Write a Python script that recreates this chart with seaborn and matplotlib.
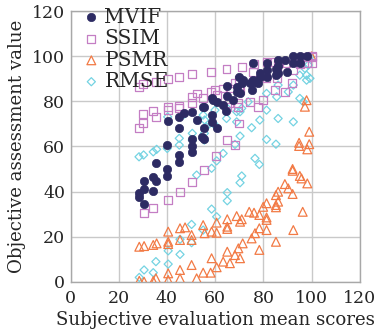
import matplotlib
matplotlib.use("Agg")
import matplotlib.pyplot as plt
import seaborn as sns
import pandas as pd
from matplotlib.ticker import MultipleLocator

# ---------------- data ----------------
mvif_x = [28.4, 28.4, 30.3, 30.3, 30.3, 34.3, 34.3, 35.4, 35.3, 40.1, 40.1, 40.1, 45.1, 45.1,
          50.5, 50.5, 50.5, 55.5, 40.3, 45.1, 45.1, 47.2, 50.5, 52.3, 55.5, 55.5, 54.4, 55.1,
          58.5, 59.2, 60.6, 58.5, 58.5, 60.6, 63.3, 64.5, 65.0, 65.0, 67.5, 69.1, 70.0, 68.9,
          70.3, 71.6, 71.0, 75.1, 74.4, 76.5, 77.8, 78.5, 78.5, 75.8, 75.8, 81.3, 81.3, 81.3,
          85.2, 85.2, 86.1, 86.1, 86.1, 88.9, 89.6, 92.1, 92.1, 95.1, 95.1, 97.9]
mvif_y = [39.2, 37.7, 34.6, 41.1, 44.6, 40.3, 46.5, 44.6, 52.6, 49.8, 46.7, 60.7, 56.2, 53.2,
          63.3, 60.3, 57.6, 63.1, 71.2, 72.9, 68.3, 74.7, 75.4, 71.7, 77.3, 68.3, 64.3, 77.6,
          81.7, 80.5, 79.8, 73.9, 71.0, 68.0, 78.3, 75.8, 86.8, 82.3, 80.5, 84.2, 90.9, 86.4,
          83.5, 89.4, 88.0, 85.0, 88.3, 88.7, 88.0, 92.4, 90.6, 89.4, 96.8, 97.1, 93.8, 90.9,
          94.2, 91.6, 98.3, 95.6, 92.4, 98.3, 93.1, 100.1, 96.8, 100.1, 96.8, 100.0]

ssim_x = [28.4, 30.2, 35.3, 40.3, 45.1, 50.2, 58.2, 64.7, 71.0, 76.1, 81.3, 84.8, 86.1, 89.6,
          95.1, 97.9, 100.0, 95.1, 97.9, 100.0, 100.0,
          28.4, 30.2, 30.2, 34.3, 35.3, 40.3, 40.3, 45.1, 45.1, 50.2, 50.2, 52.3, 55.0, 58.2,
          59.9, 60.6, 63.3, 66.1, 68.2, 65.0, 70.0, 70.0, 70.3, 65.8, 69.5, 69.5, 74.4, 77.8,
          79.9, 84.8, 88.9, 91.7, 92.4, 75.8, 75.8, 81.3, 85.5, 85.5,
          30.5, 34.3, 40.5, 45.4, 50.2, 55.3, 60.3, 65.0, 68.2, 70.0]
ssim_y = [86.4, 87.6, 88.7, 89.9, 90.9, 92.1, 93.1, 94.2, 95.4, 96.5, 97.5, 97.5, 96.8, 96.8,
          99.0, 99.7, 99.7, 96.4, 97.1, 97.1, 100.0,
          68.3, 70.5, 74.3, 75.7, 73.1, 77.6, 76.1, 77.9, 76.9, 82.0, 79.4, 83.5, 81.3, 84.2,
          85.0, 82.8, 85.7, 85.7, 88.0, 77.6, 89.4, 86.4, 85.0, 79.1, 79.1, 77.6, 79.8, 77.6,
          80.5, 85.0, 84.2, 88.0, 93.8, 93.1, 88.7, 90.2, 93.1, 90.2,
          30.3, 32.8, 36.2, 39.6, 44.3, 49.5, 55.7, 62.8, 60.6, 70.2]

psmr_x = [28.5, 30.5, 34.3, 35.7, 40.5, 40.5, 40.5, 45.4, 45.4, 47.5, 50.2, 50.2, 55.0, 55.6,
          58.5, 60.6, 60.6, 65.0, 65.0, 65.0, 68.9, 71.0, 70.3, 74.1, 76.1, 78.3, 81.3, 81.3,
          79.9, 81.3, 85.2, 86.1, 86.1, 85.2, 85.2, 88.9, 90.3, 92.1, 92.1, 92.1, 95.1, 95.8,
          98.2, 96.3, 94.8, 94.8, 99.0, 98.2, 99.0, 97.9, 97.2, 100.0, 92.4,
          28.5, 30.5, 34.3, 35.4, 40.5, 40.5, 45.4, 45.4, 50.2, 52.3, 55.0, 58.1, 60.6, 58.5,
          63.3, 65.0, 66.1, 68.2, 69.6, 70.3, 71.4, 78.3, 78.3, 76.5, 75.1, 85.2, 81.3]
psmr_y = [15.5, 15.8, 16.3, 17.0, 22.2, 17.7, 16.7, 23.7, 18.5, 24.1, 20.7, 18.5, 25.1, 21.5,
          22.2, 26.2, 21.7, 27.7, 24.4, 23.4, 29.1, 27.7, 26.6, 31.0, 30.6, 29.6, 28.5, 27.4,
          33.2, 34.8, 38.4, 39.9, 35.5, 34.0, 33.0, 43.3, 41.4, 38.9, 50.0, 49.2, 46.9, 45.8,
          43.6, 31.0, 61.6, 60.2, 61.0, 58.7, 66.5, 80.5, 77.6, 100.0, 22.9,
          0.4, 0.0, 0.3, 1.5, 3.7, 0.8, 5.2, 1.5, 7.4, 1.5, 4.0, 4.0, 6.4, 10.4,
          8.9, 13.3, 8.2, 11.8, 14.8, 10.4, 17.0, 14.1, 23.7, 21.5, 19.2, 17.7, 22.9]

rmse_x = [28.4, 30.3, 34.3, 35.7, 40.1, 45.1, 45.1, 50.5, 50.5, 55.5, 55.5, 40.3, 47.2, 55.0,
          55.6, 56.3, 59.9, 59.2, 60.6, 64.7, 65.0, 68.9, 68.9, 73.7, 71.0, 70.3, 78.5, 75.1,
          70.3, 68.2, 81.3, 85.2, 81.3, 81.3, 86.1, 92.4, 85.5, 86.1, 90.3, 92.4, 95.1, 96.5,
          99.3, 98.6, 97.2, 95.1, 97.9, 99.3, 97.9,
          52.3, 58.5, 60.6, 63.3, 76.5, 78.3, 71.0, 70.3, 65.0, 65.0, 58.5, 60.6, 55.0, 50.2,
          45.4, 50.2, 40.5, 45.4, 35.4, 40.5, 30.5, 34.3, 28.5]
rmse_y = [55.4, 56.2, 57.6, 58.7, 59.1, 60.6, 63.6, 65.8, 62.8, 65.8, 62.8, 73.1, 74.3, 73.9,
          71.7, 68.7, 76.1, 70.2, 68.7, 72.4, 76.9, 75.4, 70.9, 79.8, 76.9, 75.4, 71.7, 68.3,
          64.6, 60.9, 63.1, 61.0, 83.5, 76.1, 72.4, 70.9, 82.0, 87.2, 84.2, 87.2, 81.3, 79.8,
          99.7, 96.1, 94.6, 91.6, 91.6, 90.2, 89.4,
          47.3, 50.3, 53.6, 56.9, 54.7, 52.0, 46.9, 43.9, 39.5, 35.9, 32.2, 28.8, 22.9, 25.4,
          18.8, 17.3, 13.7, 12.1, 8.9, 7.8, 5.2, 4.0, 1.9]

x_ticks = [0, 20, 40, 60, 80, 100, 120]
y_ticks = [0, 20, 40, 60, 80, 100, 120]
x_label = "Subjective evaluation mean scores"
y_label = "Objective assessment value"

# ---------------- plot ----------------
sns.set_style("white")
plt.rcParams["font.family"] = ["DejaVu Serif"]
plt.rcParams["mathtext.fontset"] = "dejavuserif"

fig = plt.figure(figsize=(3.92, 3.34), dpi=100)
ax = fig.add_axes([0.18, 0.1566, 0.738, 0.81])

navy = "#2d2b63"
purple = "#c47ec4"
orange = "#f27a45"
cyan = "#74d3e2"

df_m = pd.DataFrame({"x": mvif_x, "y": mvif_y})
df_s = pd.DataFrame({"x": ssim_x, "y": ssim_y})
df_p = pd.DataFrame({"x": psmr_x, "y": psmr_y})
df_r = pd.DataFrame({"x": rmse_x, "y": rmse_y})

sns.scatterplot(data=df_r, x="x", y="y", ax=ax, marker="D", s=17,
                facecolor="none", edgecolor=cyan, linewidth=0.9, label="RMSE", zorder=3)
sns.scatterplot(data=df_p, x="x", y="y", ax=ax, marker="^", s=40,
                facecolor="none", edgecolor=orange, linewidth=0.9, label="PSMR", zorder=3)
sns.scatterplot(data=df_s, x="x", y="y", ax=ax, marker="s", s=32,
                facecolor="none", edgecolor=purple, linewidth=0.9, label="SSIM", zorder=4)
sns.scatterplot(data=df_m, x="x", y="y", ax=ax, marker="o", s=36,
                color=navy, edgecolor=navy, linewidth=0.5, label="MVIF", zorder=5)

ax.set_xlim(0, 120)
ax.set_ylim(0, 120)
ax.set_xticks(x_ticks)
ax.set_yticks(y_ticks)
ax.xaxis.set_minor_locator(MultipleLocator(5))
ax.yaxis.set_minor_locator(MultipleLocator(4))
ax.grid(True, which="major", color="#c9c9c9", linewidth=1.0, zorder=0)
ax.set_axisbelow(True)
ax.tick_params(which="both", direction="in", color="#9a9a9a", labelsize=12.5)
ax.tick_params(axis="x", which="both", pad=6)
ax.tick_params(axis="y", which="both", pad=4)
ax.tick_params(which="major", length=0)
ax.tick_params(which="minor", length=4, width=0.8)
for sp in ax.spines.values():
    sp.set_color("#a8a8a8")
    sp.set_linewidth(1.0)

ax.set_xlabel(x_label, fontsize=13.1, labelpad=3)
ax.set_ylabel(y_label, fontsize=13.1, labelpad=4)

handles, labels = ax.get_legend_handles_labels()
order = ["MVIF", "SSIM", "PSMR", "RMSE"]
hmap = dict(zip(labels, handles))
ax.legend([hmap[k] for k in order], order, loc="upper left", bbox_to_anchor=(0.03, 1.02),
          frameon=False, fontsize=14.5, handletextpad=0.15, handlelength=1.0,
          labelspacing=0.12, borderaxespad=0.0, borderpad=0.1)

fig.savefig("out.png", dpi=100)
